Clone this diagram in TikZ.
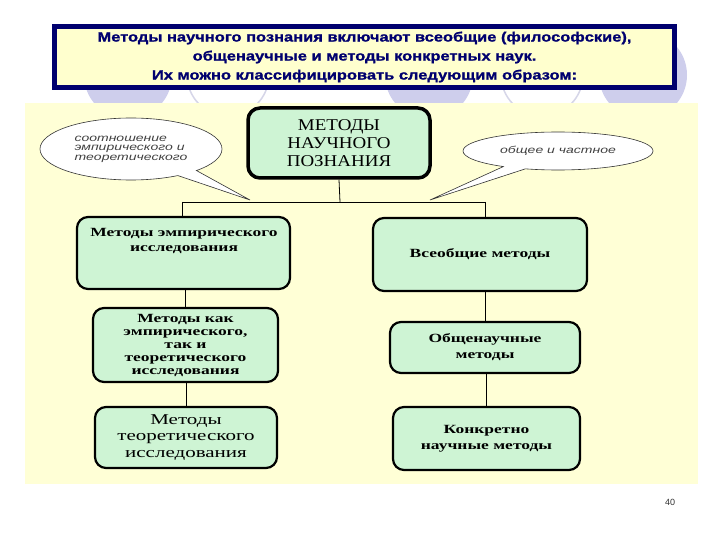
\documentclass[tikz,border=0pt]{standalone}
\usepackage{fontspec}
\setmainfont{Liberation Serif}
\newfontfamily\titlefont{Liberation Sans}[FakeStretch=1.22, BoldFeatures={FakeBold=1.2}]
\newfontfamily\boxfont{Liberation Serif}[FakeStretch=1.4]
\newfontfamily\topfont{Liberation Serif}[FakeStretch=1.15]
\newfontfamily\callfont{Liberation Sans}[FakeStretch=1.4]
\newfontfamily\numfont{Liberation Sans}
\usetikzlibrary{shapes.callouts}
\definecolor{navy}{RGB}{0,0,110}
\definecolor{titlefill}{RGB}{255,255,206}
\definecolor{panelfill}{RGB}{255,255,214}
\definecolor{mint}{RGB}{206,244,212}
\definecolor{lav}{RGB}{206,206,236}
\definecolor{lavline}{RGB}{214,214,232}
\tikzset{
  titlebox/.style={draw=navy, line width=5pt, fill=titlefill, inner sep=0pt,
    align=center, text=navy, font=\titlefont\bfseries\fontsize{13.5}{19}\selectfont},
  topbox/.style={draw=black, line width=3.5pt, fill=mint, rounded corners=12pt, inner sep=0pt,
    align=center, font=\topfont\fontsize{16.5}{18}\selectfont},
  greenbox/.style={draw=black, line width=2.2pt, fill=mint, rounded corners=11pt, inner sep=0pt,
    align=center, font=\boxfont\bfseries\fontsize{12.5}{13}\selectfont},
  boxtxt/.style={align=center, inner sep=0pt, font=\boxfont\bfseries\fontsize{12.5}{15}\selectfont},
  callbox/.style={ellipse callout, draw=black!80, line width=0.6pt, fill=white, inner sep=0pt,
    text=black!75, font=\callfont\itshape\fontsize{10}{9.5}\selectfont},
  conn/.style={draw=black, line width=0.8pt}
}
\begin{document}
\begin{tikzpicture}[x=1pt,y=-1pt]
\useasboundingbox (0,0) rectangle (720,540);
\fill[white] (0,0) rectangle (720,540);
% decorative circles of the slide template
\fill[lav] (128,75) circle (44);
\fill[lav] (429,75) circle (44);
\fill[lav] (643,75) circle (44);
\draw[lavline, line width=1.5pt] (228,75) circle (41);
\draw[lavline, line width=1.5pt] (542,75) circle (41);
% title
\node[titlebox, minimum width=620, minimum height=61] (title) at (364.5,57)
  {Методы научного познания включают всеобщие (философские),\\
   общенаучные и методы конкретных наук.\\
   Их можно классифицировать следующим образом:};
% panel
\fill[panelfill] (25,103) rectangle (698,484);
% top node
\node[topbox, minimum width=182, minimum height=70] (top) at (339,143)
  {МЕТОДЫ\\НАУЧНОГО\\ПОЗНАНИЯ};
% junctions
\coordinate (j) at (340,202);
\coordinate (jl) at (182,202);
\coordinate (jr) at (485,202);
\coordinate (tipL) at (250,200);
\coordinate (tipR) at (430,200);
% callouts
\node[callbox, minimum width=182, minimum height=62, callout absolute pointer={(tipL)}] (cl) at (131,149)
  {\begin{tabular}{@{}l@{}}соотношение\\эмпирического и\\теоретического\end{tabular}};
\node[callbox, minimum width=190, minimum height=38, callout absolute pointer={(tipR)}] (cr) at (558,151)
  {общее и частное};
% left column
\node[greenbox, minimum width=213, minimum height=72] (e1) at (183.5,253) {};
\node[boxtxt] (e1t) at (184,240.5) {Методы эмпирического\\исследования};
\node[greenbox, minimum width=185, minimum height=74] (e2) at (185.5,345)
  {Методы как\\эмпирического,\\так и\\теоретического\\исследования};
\node[greenbox, minimum width=182, minimum height=61, font=\boxfont\fontsize{15}{16.5}\selectfont] (e3) at (186,437.5)
  {Методы\\теоретического\\исследования};
% right column
\node[greenbox, minimum width=214, minimum height=73] (r1) at (480,254.5) {Всеобщие методы};
\node[greenbox, minimum width=190, minimum height=51, font=\boxfont\bfseries\fontsize{12.5}{16}\selectfont] (r2) at (485,347.5)
  {Общенаучные\\методы};
\node[greenbox, minimum width=187, minimum height=63, font=\boxfont\bfseries\fontsize{12.5}{16}\selectfont] (r3) at (486.5,438.5)
  {Конкретно\\научные методы};
% connectors
\draw[conn] (top.south) -- (j);
\draw[conn] (jl) -- (jr);
\draw[conn] (jl) -- (jl |- e1.north);
\draw[conn] (jr) -- (jr |- r1.north);
\draw[conn] (e2.north) -- (e2.north |- e1.south);
\draw[conn] (e3.north) -- (e3.north |- e2.south);
\draw[conn] (r2.north) -- (r2.north |- r1.south);
\draw[conn] (r3.north) -- (r3.north |- r2.south);
% page number
\node[font=\numfont\fontsize{9}{10}\selectfont, text=black!80] (num) at (670,502) {40};
\end{tikzpicture}
\end{document}
